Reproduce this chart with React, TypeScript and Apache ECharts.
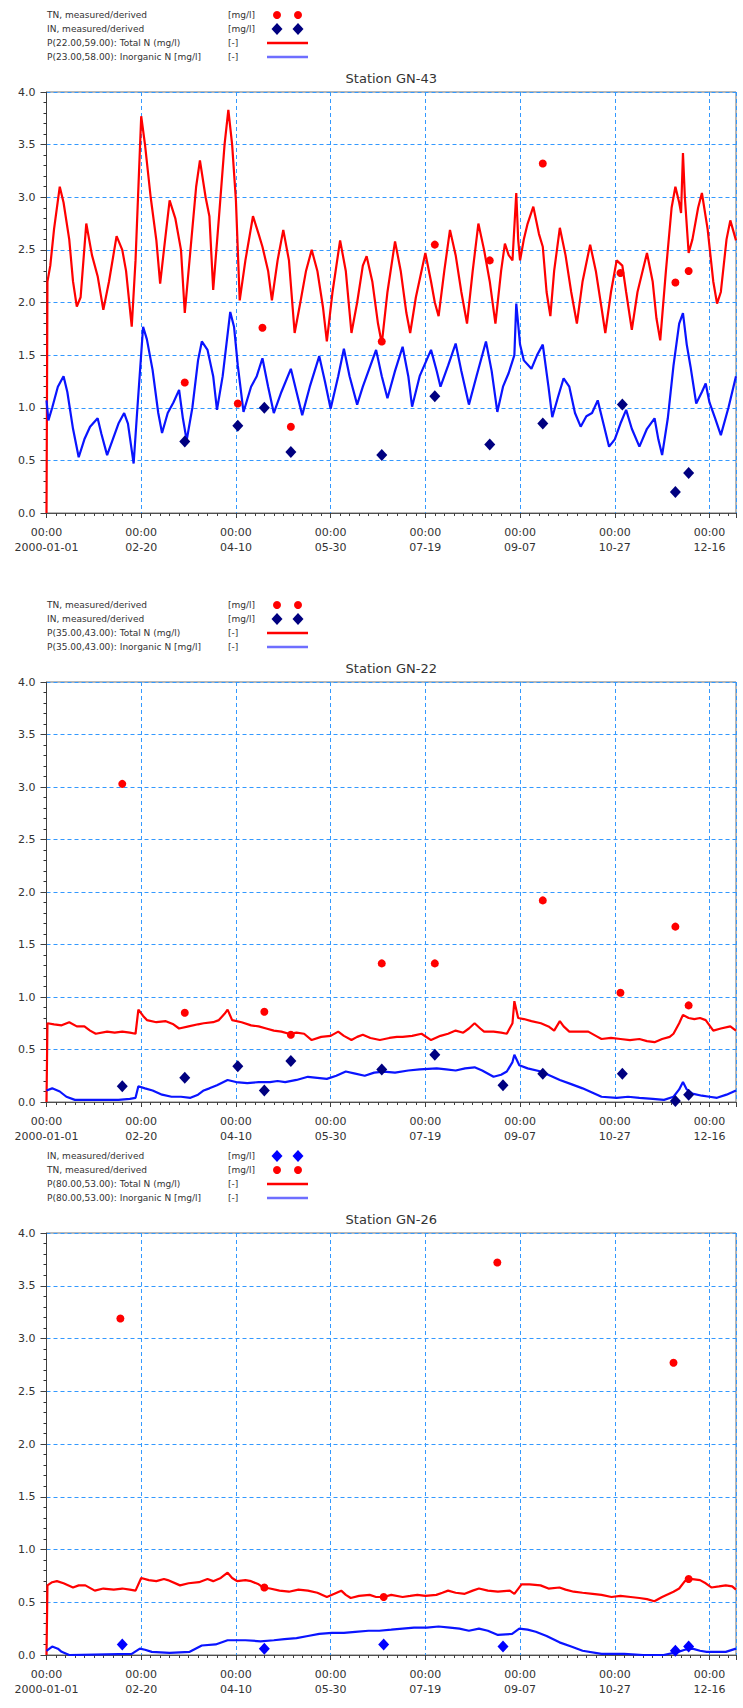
import React, { useEffect, useRef } from "react";
import * as echarts from "echarts";

// ---- x axis: days since 2000-01-01 ----
const X_MIN = 0;
const X_MAX = 364;
const X_INTERVAL = 50;
const Y_TICKS = [0, 0.5, 1, 1.5, 2, 2.5, 3, 3.5, 4];

// ---- Station GN-43 ----
const gn43Title = "Station GN-43";
const gn43Legend = [
  "TN, measured/derived",
  "IN, measured/derived",
  "P(22.00,59.00): Total N (mg/l)",
  "P(23.00,58.00): Inorganic N [mg/l]",
];
const gn43TotalN: [number, number][] = [
  [0, 0], [0.5, 2.2], [2, 2.35], [4, 2.7], [7, 3.1], [9, 2.95], [12, 2.6], [14, 2.2], [16, 1.96], [18, 2.05],
  [21, 2.75], [24, 2.45], [27, 2.25], [30, 1.93], [33, 2.2], [37, 2.63], [40, 2.5], [42, 2.3], [45, 1.77], [47, 2.4],
  [50, 3.77], [52, 3.5], [55, 3.0], [58, 2.59], [60, 2.18], [62, 2.5], [65, 2.97], [68, 2.8], [71, 2.5], [73, 1.9],
  [76, 2.5], [79, 3.1], [81, 3.35], [84, 3.0], [86, 2.82], [88, 2.12], [91, 2.8], [94, 3.5], [96, 3.83], [98, 3.5],
  [100, 2.97], [102, 2.02], [105, 2.4], [109, 2.82], [112, 2.65], [114, 2.53], [117, 2.3], [119, 2.02], [122, 2.4],
  [125, 2.69], [128, 2.4], [131, 1.71], [134, 2.0], [137, 2.3], [140, 2.5], [143, 2.3], [146, 1.95], [148, 1.63],
  [151, 2.1], [155, 2.59], [158, 2.3], [161, 1.71], [164, 2.0], [167, 2.35], [169, 2.44], [172, 2.2], [175, 1.8],
  [177, 1.61], [180, 2.1], [184, 2.58], [187, 2.3], [190, 1.9], [192, 1.71], [195, 2.05], [200, 2.47], [203, 2.2],
  [205, 2.0], [207, 1.87], [210, 2.3], [213, 2.69], [216, 2.45], [219, 2.1], [222, 1.8], [225, 2.3], [228, 2.75],
  [231, 2.5], [234, 2.2], [237, 1.8], [240, 2.3], [242, 2.56], [244, 2.45], [246, 2.4], [248, 3.04], [249, 2.6],
  [250, 2.4], [252, 2.6], [254, 2.75], [257, 2.91], [260, 2.65], [262, 2.53], [264, 2.1], [266, 1.87], [268, 2.3],
  [271, 2.71], [274, 2.45], [277, 2.1], [280, 1.8], [283, 2.2], [287, 2.55], [290, 2.3], [293, 1.95], [295, 1.71],
  [298, 2.1], [301, 2.4], [304, 2.35], [306, 2.1], [309, 1.74], [312, 2.1], [317, 2.47], [320, 2.2], [322, 1.85],
  [324, 1.64], [327, 2.3], [330, 2.9], [332, 3.1], [334, 2.95], [335, 2.85], [336, 3.42], [337, 3.0], [339, 2.47],
  [341, 2.6], [344, 2.9], [346, 3.04], [349, 2.7], [352, 2.2], [354, 1.99], [356, 2.1], [359, 2.6], [361, 2.78],
  [364, 2.59],
];
const gn43InorgN: [number, number][] = [
  [0, 1.07], [1, 0.88], [3, 1.0], [6, 1.2], [9, 1.3], [11, 1.15], [14, 0.8], [17, 0.53], [20, 0.7], [23, 0.82],
  [27, 0.9], [29, 0.75], [32, 0.55], [35, 0.7], [38, 0.85], [41, 0.95], [43, 0.85], [46, 0.47], [48, 1.0], [51, 1.77],
  [53, 1.65], [56, 1.36], [59, 0.95], [61, 0.76], [64, 0.95], [67, 1.05], [70, 1.17], [72, 0.9], [74, 0.69], [77, 1.0],
  [80, 1.45], [82, 1.63], [85, 1.55], [88, 1.3], [90, 0.98], [93, 1.3], [97, 1.91], [99, 1.77], [101, 1.4], [104, 0.96],
  [108, 1.2], [111, 1.3], [114, 1.47], [117, 1.2], [120, 0.95], [124, 1.15], [129, 1.37], [132, 1.15], [135, 0.93],
  [139, 1.2], [144, 1.49], [147, 1.25], [150, 0.99], [154, 1.3], [157, 1.56], [160, 1.3], [164, 1.03], [167, 1.2],
  [170, 1.35], [174, 1.55], [177, 1.3], [180, 1.09], [184, 1.35], [188, 1.58], [191, 1.3], [193, 1.01], [197, 1.3],
  [203, 1.55], [206, 1.35], [208, 1.2], [212, 1.4], [216, 1.61], [219, 1.35], [223, 1.03], [227, 1.3], [232, 1.63],
  [235, 1.35], [238, 0.96], [241, 1.2], [244, 1.33], [247, 1.5], [248, 1.99], [250, 1.6], [252, 1.45], [256, 1.37],
  [259, 1.5], [262, 1.6], [265, 1.2], [267, 0.91], [270, 1.1], [273, 1.28], [276, 1.2], [279, 0.95], [282, 0.82],
  [285, 0.92], [288, 0.95], [291, 1.07], [294, 0.85], [297, 0.63], [300, 0.7], [303, 0.85], [306, 0.98], [309, 0.8],
  [313, 0.63], [317, 0.8], [321, 0.9], [323, 0.7], [325, 0.55], [328, 0.9], [331, 1.4], [334, 1.8], [336, 1.9],
  [338, 1.6], [340, 1.39], [343, 1.04], [346, 1.15], [348, 1.23], [350, 1.05], [353, 0.9], [356, 0.74], [360, 1.0],
  [364, 1.3],
];
const gn43TNObs: [number, number][] = [
  [73, 1.24], [101, 1.04], [114, 1.76], [129, 0.82], [177, 1.63], [205, 2.55], [234, 2.4], [262, 3.32], [303, 2.28],
  [332, 2.19], [339, 2.3],
];
const gn43INObs: [number, number][] = [
  [73, 0.68], [101, 0.83], [115, 1.0], [129, 0.58], [177, 0.55], [205, 1.11], [234, 0.65], [262, 0.85], [304, 1.03],
  [332, 0.2], [339, 0.38],
];

// ---- Station GN-22 ----
const gn22Title = "Station GN-22";
const gn22Legend = [
  "TN, measured/derived",
  "IN, measured/derived",
  "P(35.00,43.00): Total N (mg/l)",
  "P(35.00,43.00): Inorganic N [mg/l]",
];
const gn22TotalN: [number, number][] = [
  [0, 0], [0.5, 0.75], [4, 0.74], [8, 0.73], [12, 0.76], [16, 0.72], [20, 0.72], [23, 0.68], [26, 0.65], [32, 0.67],
  [36, 0.66], [40, 0.67], [44, 0.66], [47, 0.65], [48.5, 0.88], [51, 0.82], [53, 0.78], [58, 0.76], [63, 0.77],
  [67, 0.74], [70, 0.7], [75, 0.72], [80, 0.74], [83, 0.75], [88, 0.76], [91, 0.78], [94, 0.84], [95.6, 0.88],
  [98, 0.78], [103, 0.76], [108, 0.73], [112, 0.72], [116, 0.7], [120, 0.68], [124, 0.67], [128, 0.65], [132, 0.66],
  [136, 0.65], [140, 0.59], [145, 0.62], [150, 0.63], [154, 0.67], [157, 0.63], [161, 0.59], [164, 0.62], [167, 0.64],
  [171, 0.61], [176, 0.59], [181, 0.61], [185, 0.62], [188, 0.62], [193, 0.63], [198, 0.65], [203, 0.59], [208, 0.63],
  [212, 0.65], [216, 0.68], [220, 0.66], [223, 0.7], [226, 0.75], [229, 0.7], [231, 0.67], [236, 0.67], [240, 0.66],
  [243, 0.65], [246, 0.75], [247, 0.96], [249, 0.8], [252, 0.79], [256, 0.77], [261, 0.75], [265, 0.72], [268, 0.68],
  [271, 0.77], [273, 0.72], [276, 0.67], [281, 0.67], [286, 0.67], [290, 0.63], [293, 0.6], [298, 0.61], [303, 0.6],
  [308, 0.59], [313, 0.6], [317, 0.58], [321, 0.57], [325, 0.6], [329, 0.62], [331, 0.65], [334, 0.75], [336, 0.83],
  [339, 0.8], [342, 0.79], [345, 0.8], [348, 0.78], [352, 0.68], [356, 0.7], [361, 0.72], [364, 0.68],
];
const gn22InorgN: [number, number][] = [
  [0, 0.11], [3, 0.13], [7, 0.1], [10.5, 0.05], [15, 0.02], [25, 0.02], [38, 0.02], [44, 0.03], [47, 0.04],
  [48.5, 0.15], [52, 0.13], [56, 0.11], [61, 0.07], [66, 0.05], [71, 0.05], [76, 0.04], [80, 0.07], [83, 0.11],
  [86, 0.13], [90, 0.16], [95.6, 0.21], [100, 0.19], [106, 0.18], [112, 0.19], [118, 0.19], [122, 0.2], [126, 0.19],
  [132, 0.21], [138, 0.24], [143, 0.23], [148, 0.22], [153, 0.25], [158, 0.29], [163, 0.27], [168, 0.25], [173, 0.28],
  [178, 0.29], [184, 0.28], [191, 0.3], [197, 0.31], [206, 0.32], [211, 0.31], [216, 0.3], [221, 0.32], [226, 0.33],
  [230, 0.3], [236, 0.24], [240, 0.26], [243, 0.29], [246, 0.38], [247, 0.45], [249.6, 0.35], [254, 0.32], [261, 0.29],
  [266, 0.25], [271, 0.21], [277, 0.17], [283, 0.13], [288, 0.09], [293, 0.05], [301, 0.04], [307, 0.05], [313, 0.04],
  [320, 0.03], [326, 0.02], [331, 0.05], [334, 0.12], [336, 0.19], [338, 0.12], [341, 0.08], [346, 0.06], [350, 0.05],
  [354, 0.04], [359, 0.07], [364, 0.11],
];
const gn22TNObs: [number, number][] = [
  [40, 3.03], [73, 0.85], [115, 0.86], [129, 0.64], [177, 1.32], [205, 1.32], [262, 1.92], [303, 1.04], [332, 1.67],
  [339, 0.92],
];
const gn22INObs: [number, number][] = [
  [40, 0.15], [73, 0.23], [101, 0.34], [115, 0.11], [129, 0.39], [177, 0.31], [205, 0.45], [241, 0.16], [262, 0.27],
  [304, 0.27], [332, 0.01], [339, 0.07],
];

// ---- Station GN-26 ----
const gn26Title = "Station GN-26";
const gn26Legend = [
  "IN, measured/derived",
  "TN, measured/derived",
  "P(80.00,53.00): Total N (mg/l)",
  "P(80.00,53.00): Inorganic N [mg/l]",
];
const gn26TotalN: [number, number][] = [
  [0, 0], [0.5, 0.66], [3, 0.69], [5.5, 0.7], [9, 0.68], [14, 0.64], [17, 0.66], [20.5, 0.66], [25.5, 0.61], [30, 0.63],
  [35.5, 0.62], [40, 0.63], [44, 0.62], [47, 0.61], [50, 0.73], [54, 0.71], [58, 0.7], [62, 0.72], [64, 0.71],
  [70.5, 0.66], [75, 0.68], [80.5, 0.69], [85, 0.72], [88, 0.7], [92, 0.73], [95.6, 0.78], [98, 0.73], [100.6, 0.7],
  [105, 0.71], [108, 0.7], [112, 0.67], [114.4, 0.64], [118, 0.63], [123, 0.61], [128, 0.6], [133, 0.62], [138, 0.61],
  [143, 0.59], [148, 0.55], [152, 0.58], [155.6, 0.61], [158, 0.57], [160.6, 0.54], [165, 0.56], [170.6, 0.57],
  [174, 0.55], [178, 0.55], [182, 0.57], [188, 0.55], [192, 0.56], [195.8, 0.57], [200, 0.56], [205.8, 0.57],
  [209, 0.59], [212, 0.61], [216, 0.59], [220.8, 0.58], [225, 0.61], [228.3, 0.63], [233, 0.61], [238.3, 0.6],
  [244.6, 0.61], [247, 0.58], [250.8, 0.67], [255, 0.67], [260.8, 0.66], [265, 0.63], [270.8, 0.64], [274, 0.62],
  [278.3, 0.6], [283, 0.59], [288.3, 0.58], [293, 0.57], [298.3, 0.55], [303, 0.56], [308.4, 0.55], [313, 0.54],
  [317, 0.53], [320.9, 0.51], [325, 0.55], [331, 0.6], [334, 0.63], [337, 0.7], [341, 0.72], [345, 0.71], [348, 0.68],
  [351, 0.64], [355, 0.65], [358.6, 0.66], [362, 0.65], [364, 0.62],
];
const gn26InorgN: [number, number][] = [
  [0, 0.04], [3, 0.08], [6, 0.06], [8, 0.03], [12, 0], [45, 0.01], [49.3, 0.06], [52, 0.05], [55.6, 0.03], [65, 0.02],
  [75.6, 0.03], [82, 0.09], [89.3, 0.1], [95.6, 0.14], [105, 0.14], [113, 0.13], [120, 0.14], [125.6, 0.15],
  [132, 0.16], [138, 0.18], [144, 0.2], [150.7, 0.21], [157, 0.21], [163, 0.22], [170, 0.23], [175.7, 0.23],
  [182, 0.24], [188, 0.25], [194, 0.26], [200.8, 0.26], [207, 0.27], [213, 0.26], [218, 0.25], [223, 0.23],
  [228.3, 0.25], [233, 0.23], [238.3, 0.19], [245.8, 0.2], [249.6, 0.25], [254, 0.24], [258.3, 0.22], [264, 0.18],
  [270.8, 0.12], [277, 0.08], [283, 0.04], [293, 0.01], [305, 0.01], [315, 0], [325.8, 0], [333.5, 0.03], [337, 0.05],
  [341, 0.06], [345, 0.04], [348.5, 0.03], [358.6, 0.03], [364, 0.06],
];
const gn26TNObs: [number, number][] = [
  [39, 3.19], [115, 0.64], [178, 0.55], [238, 3.72], [331, 2.77], [339, 0.72],
];
const gn26INObs: [number, number][] = [
  [40, 0.1], [115, 0.06], [178, 0.1], [241, 0.08], [332, 0.04], [339, 0.08],
];

// ---- styling ----
const FONT = "DejaVu Sans";
const RED = "#ff0000";
const BLUE = "#0a14ff";
const NAVY = "#000080";
const BRIGHT_BLUE = "#0000ff";
const LEGEND_BLUE = "#6e6eff";
const GRID_BLUE = "#3399ff";
const TEXT = "#333333";

const PLOT_LEFT = 46.5;
const PLOT_WIDTH = 689.5;
const PANELS = [
  { top: 92, height: 421 },
  { top: 682, height: 420 },
  { top: 1233, height: 422 },
];

const DAY0 = Date.UTC(2000, 0, 1);
function fmtDay(v: number): string {
  if (Math.abs(v % X_INTERVAL) > 1e-6) return "";
  const d = new Date(DAY0 + v * 86400000);
  const mm = String(d.getUTCMonth() + 1).padStart(2, "0");
  const dd = String(d.getUTCDate()).padStart(2, "0");
  return "00:00\n" + (v === 0 ? "2000-01-01" : mm + "-" + dd);
}

function legendElements(top: number, labels: string[], symbolKinds: string[]) {
  const els: any[] = [];
  const x0 = 47;
  const unitX = 228;
  const s1 = 277;
  const s2 = 298;
  labels.forEach((label, i) => {
    const y = top - 77 + i * 14;
    els.push({
      type: "text",
      x: x0,
      y,
      style: { text: label, fontSize: 9, fontFamily: FONT, fill: TEXT, verticalAlign: "middle" },
    });
    const kind = symbolKinds[i];
    els.push({
      type: "text",
      x: unitX,
      y,
      style: {
        text: kind.startsWith("line") ? "[-]" : "[mg/l]",
        fontSize: 9,
        fontFamily: FONT,
        fill: TEXT,
        verticalAlign: "middle",
      },
    });
    if (kind === "circle") {
      [s1, s2].forEach((cx) =>
        els.push({ type: "circle", shape: { cx, cy: y, r: 4 }, style: { fill: RED } })
      );
    } else if (kind === "diamondNavy" || kind === "diamondBlue") {
      const col = kind === "diamondNavy" ? NAVY : BRIGHT_BLUE;
      [s1, s2].forEach((cx) =>
        els.push({
          type: "polygon",
          shape: { points: [[cx, y - 6], [cx + 5.5, y], [cx, y + 6], [cx - 5.5, y]] },
          style: { fill: col },
        })
      );
    } else if (kind === "lineRed" || kind === "lineBlue") {
      els.push({
        type: "line",
        shape: { x1: 267, y1: y, x2: 308, y2: y },
        style: { stroke: kind === "lineRed" ? RED : LEGEND_BLUE, lineWidth: 2.5 },
      });
    }
  });
  return els;
}

function buildOption() {
  const grids = PANELS.map((p) => ({
    left: PLOT_LEFT,
    top: p.top,
    width: PLOT_WIDTH,
    height: p.height,
    show: true,
    borderColor: "#707070",
    borderWidth: 1,
    backgroundColor: "transparent",
  }));

  const xAxes = PANELS.map((_, i) => ({
    type: "value",
    gridIndex: i,
    min: X_MIN,
    max: X_MAX,
    interval: X_INTERVAL,
    axisLine: { show: true, lineStyle: { color: "#505050", width: 1 } },
    axisTick: { show: true, length: 5, lineStyle: { color: "#404040" } },
    minorTick: { show: true, splitNumber: 10, length: 3, lineStyle: { color: "#404040" } },
    axisLabel: {
      formatter: fmtDay,
      fontFamily: FONT,
      fontSize: 11,
      color: TEXT,
      lineHeight: 15,
      margin: 12,
      showMaxLabel: false,
    },
    splitLine: { show: true, lineStyle: { color: GRID_BLUE, type: [4, 3], width: 1 } },
  }));

  const yAxes = PANELS.map((_, i) => ({
    type: "value",
    gridIndex: i,
    min: Y_TICKS[0],
    max: Y_TICKS[Y_TICKS.length - 1],
    interval: Y_TICKS[1] - Y_TICKS[0],
    axisLine: { show: true, lineStyle: { color: "#404040", width: 1 } },
    axisTick: { show: true, length: 6, lineStyle: { color: "#404040" } },
    minorTick: { show: true, splitNumber: 5, length: 3, lineStyle: { color: "#303030" } },
    axisLabel: {
      formatter: (v: number) => v.toFixed(1),
      fontFamily: FONT,
      fontSize: 11,
      color: TEXT,
      margin: 11,
    },
    splitLine: { show: true, lineStyle: { color: GRID_BLUE, type: [4, 3], width: 1 } },
  }));

  const stations = [
    { title: gn43Title, total: gn43TotalN, inorg: gn43InorgN, tn: gn43TNObs, inn: gn43INObs, diamond: NAVY },
    { title: gn22Title, total: gn22TotalN, inorg: gn22InorgN, tn: gn22TNObs, inn: gn22INObs, diamond: NAVY },
    { title: gn26Title, total: gn26TotalN, inorg: gn26InorgN, tn: gn26TNObs, inn: gn26INObs, diamond: BRIGHT_BLUE },
  ];

  const series: any[] = [];
  stations.forEach((s, i) => {
    series.push({
      name: "Total N " + s.title,
      type: "line",
      xAxisIndex: i,
      yAxisIndex: i,
      data: s.total,
      showSymbol: false,
      lineStyle: { color: RED, width: 2.2 },
      z: 2,
    });
    series.push({
      name: "Inorganic N " + s.title,
      type: "line",
      xAxisIndex: i,
      yAxisIndex: i,
      data: s.inorg,
      showSymbol: false,
      lineStyle: { color: BLUE, width: 2.2 },
      z: 2,
    });
    series.push({
      name: "TN obs " + s.title,
      type: "scatter",
      xAxisIndex: i,
      yAxisIndex: i,
      data: s.tn,
      symbol: "circle",
      symbolSize: 8,
      itemStyle: { color: RED, opacity: 1 },
      z: 3,
    });
    series.push({
      name: "IN obs " + s.title,
      type: "scatter",
      xAxisIndex: i,
      yAxisIndex: i,
      data: s.inn,
      symbol: "diamond",
      symbolSize: [11, 12],
      itemStyle: { color: s.diamond, opacity: 1 },
      z: 4,
    });
  });

  const titles = stations.map((s, i) => ({
    text: s.title,
    left: PLOT_LEFT + PLOT_WIDTH / 2,
    top: PANELS[i].top - 20,
    textAlign: "center",
    padding: 0,
    textStyle: { fontFamily: FONT, fontSize: 13, fontWeight: "normal", color: TEXT },
  }));

  const graphics = [
    ...legendElements(PANELS[0].top, gn43Legend, ["circle", "diamondNavy", "lineRed", "lineBlue"]),
    ...legendElements(PANELS[1].top, gn22Legend, ["circle", "diamondNavy", "lineRed", "lineBlue"]),
    ...legendElements(PANELS[2].top, gn26Legend, ["diamondBlue", "circle", "lineRed", "lineBlue"]),
  ];

  return {
    animation: false,
    backgroundColor: "#ffffff",
    title: titles,
    grid: grids,
    xAxis: xAxes,
    yAxis: yAxes,
    series,
    graphic: { elements: graphics },
  };
}

export default function App() {
  const ref = useRef<HTMLDivElement>(null);
  useEffect(() => {
    if (!ref.current) return;
    const chart = echarts.init(ref.current, null, { renderer: "svg" });
    chart.setOption(buildOption() as any);
    return () => chart.dispose();
  }, []);
  return (
    <div
      ref={ref}
      style={{ position: "absolute", left: 0, top: 0, width: 743, height: 1708, background: "#fff" }}
    />
  );
}
